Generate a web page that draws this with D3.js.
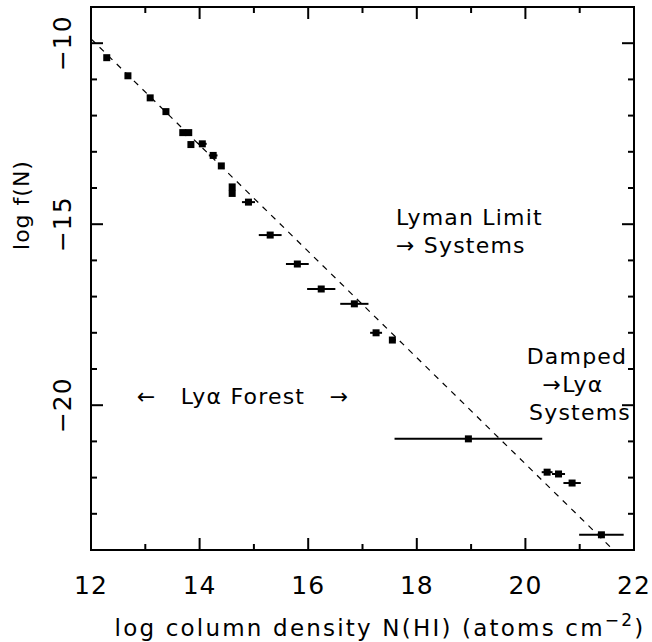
<!DOCTYPE html>
<html>
<head>
<meta charset="utf-8">
<script src="https://cdn.jsdelivr.net/npm/d3@7"></script>
<style>
  body { margin: 0; background: #fff; }
  text { font-family: "DejaVu Sans", sans-serif; fill: #000; }
</style>
</head>
<body>
<div id="my_dataviz"></div>
<script>
// data
let logN = [12.29, 12.68, 13.09, 13.38, 13.69, 13.80, 13.84, 14.05, 14.25, 14.40,
            14.60, 14.60, 14.90, 15.30, 15.80, 16.24, 16.85, 17.25, 17.55,
            18.95, 20.40, 20.61, 20.86, 21.40];
let logF = [-10.40, -10.90, -11.51, -11.89, -12.47, -12.47, -12.80, -12.78, -13.10, -13.39,
            -13.97, -14.15, -14.39, -15.30, -16.10, -16.79, -17.20, -18.00, -18.20,
            -20.93, -21.85, -21.90, -22.15, -23.58];
let xErr = [0, 0, 0, 0, 0, 0, 0, 0.08, 0.08, 0,
            0, 0, 0.12, 0.21, 0.21, 0.26, 0.26, 0.11, 0.06,
            1.36, 0.1, 0.12, 0.16, 0.41];

// dashed power law
let fitX = [12, 21.62];
let fitY = [-9.88, -24];

let xTicks = [12, 14, 16, 18, 20, 22];
let xMinor = [13, 15, 17, 19, 21];
let yTicks = [-10, -15, -20];
let yMinor = [-9, -11, -12, -13, -14, -16, -17, -18, -19, -21, -22, -23];

let margin = { top: 7, right: 18, bottom: 92, left: 91 },
    width = 652 - margin.left - margin.right,
    height = 642 - margin.top - margin.bottom;

let root = d3.select("#my_dataviz")
    .append("svg")
    .attr("width", 652)
    .attr("height", 642);

let svg = root.append("g")
    .attr("transform", "translate(" + margin.left + "," + margin.top + ")");

let x = d3.scaleLinear().domain([12, 22]).range([0, width]);
let y = d3.scaleLinear().domain([-24, -9]).range([height, 0]);

// ticks inside on all four sides
function tickLines(vals, len, horizontal) {
    vals.forEach(v => {
        if (horizontal) {
            svg.append("line").attr("x1", x(v)).attr("x2", x(v))
                .attr("y1", height).attr("y2", height - len)
                .attr("stroke", "#000").attr("stroke-width", 2);
            svg.append("line").attr("x1", x(v)).attr("x2", x(v))
                .attr("y1", 0).attr("y2", len)
                .attr("stroke", "#000").attr("stroke-width", 2);
        } else {
            svg.append("line").attr("y1", y(v)).attr("y2", y(v))
                .attr("x1", 0).attr("x2", len)
                .attr("stroke", "#000").attr("stroke-width", 2);
            svg.append("line").attr("y1", y(v)).attr("y2", y(v))
                .attr("x1", width).attr("x2", width - len)
                .attr("stroke", "#000").attr("stroke-width", 2);
        }
    });
}
tickLines(xTicks, 12, true);
tickLines(xMinor, 6, true);
tickLines(yTicks, 12, false);
tickLines(yMinor, 6, false);

svg.append("rect")
    .attr("width", width).attr("height", height)
    .attr("fill", "none").attr("stroke", "#000").attr("stroke-width", 2);

// tick labels
svg.selectAll(".xlab")
    .data(xTicks)
    .enter()
    .append("text")
    .attr("x", d => x(d))
    .attr("y", height + 44)
    .attr("text-anchor", "middle")
    .style("font-size", "25px")
    .style("letter-spacing", "1px")
    .text(d => d);

svg.selectAll(".ylab")
    .data(yTicks)
    .enter()
    .append("text")
    .attr("transform", d => "translate(-20," + y(d) + ") rotate(-90)")
    .attr("text-anchor", "middle")
    .style("font-size", "25px")
    .style("letter-spacing", "1px")
    .text(d => "\u2212" + Math.abs(d));

// axis titles
let xt = root.append("text")
    .attr("x", 380)
    .attr("y", 636)
    .attr("text-anchor", "middle")
    .style("font-size", "23px")
    .style("letter-spacing", "2.2px");
xt.append("tspan").text("log column density N(HI) (atoms cm");
xt.append("tspan").attr("dy", -10).style("font-size", "17px").text("\u22122");
xt.append("tspan").attr("dy", 10).text(")");

root.append("text")
    .attr("transform", "translate(29,205) rotate(-90)")
    .attr("text-anchor", "middle")
    .style("font-size", "22px")
    .style("letter-spacing", "1px")
    .text("log f(N)");

// dashed line
svg.append("line")
    .attr("x1", x(fitX[0])).attr("y1", y(fitY[0]))
    .attr("x2", x(fitX[1])).attr("y2", y(fitY[1]))
    .attr("stroke", "#000").attr("stroke-width", 1.2)
    .attr("stroke-dasharray", "6,6");

// error bars + points
let pts = logN.map((d, i) => ({ n: d, f: logF[i], e: xErr[i] }));

svg.selectAll(".err")
    .data(pts.filter(d => d.e > 0))
    .enter()
    .append("line")
    .attr("x1", d => x(d.n - d.e))
    .attr("x2", d => x(d.n + d.e))
    .attr("y1", d => y(d.f))
    .attr("y2", d => y(d.f))
    .attr("stroke", "#000")
    .attr("stroke-width", 2);

svg.selectAll(".pt")
    .data(pts)
    .enter()
    .append("rect")
    .attr("x", d => x(d.n) - 3.5)
    .attr("y", d => y(d.f) - 3.5)
    .attr("width", 7)
    .attr("height", 7)
    .attr("fill", "#000");

// annotations
let notes = [
    { t: "Lyman Limit", x: 396, y: 225, a: "start" },
    { t: "\u2192 Systems", x: 396, y: 253, a: "start" },
    { t: "Damped", x: 577, y: 364, a: "middle" },
    { t: "\u2192Ly\u03b1", x: 573, y: 392, a: "middle" },
    { t: "Systems", x: 580, y: 420, a: "middle" },
    { t: "\u2190   Ly\u03b1 Forest   \u2192", x: 243, y: 404, a: "middle" }
];
root.selectAll(".note")
    .data(notes)
    .enter()
    .append("text")
    .attr("x", d => d.x)
    .attr("y", d => d.y)
    .attr("text-anchor", d => d.a)
    .style("font-size", "22px")
    .style("letter-spacing", "1.2px")
    .style("white-space", "pre")
    .text(d => d.t);
</script>
</body>
</html>
